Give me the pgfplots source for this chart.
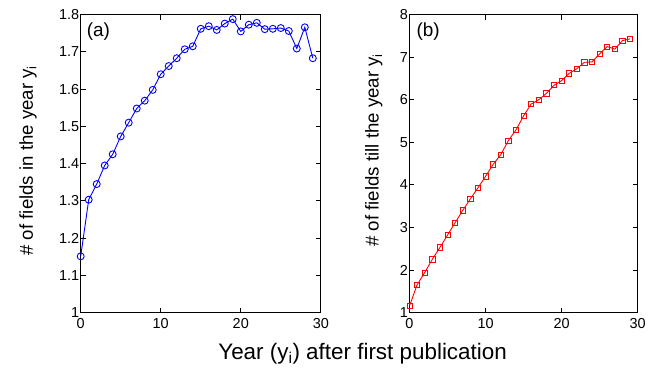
\documentclass[border=0pt]{standalone}
\usepackage{pgfplots}
\pgfplotsset{compat=1.18}
\usepackage{fontspec}
\setmainfont{Liberation Sans}
\begin{document}
\begin{tikzpicture}
\pgfplotsset{
  every axis/.append style={
    scale only axis,
    width=241pt, height=299pt,
    xmin=0, xmax=30,
    xtick={0,10,20,30},
    tick align=inside,
    major tick length=5pt,
    axis line style={line width=1pt},
    every tick/.style={black, line width=0.8pt},
    tick label style={font=\fontsize{14.5}{14.5}\selectfont},
    label style={font=\fontsize{18.7}{18.7}\selectfont},
    yticklabel style={xshift=2pt},
    xticklabel style={yshift=-2pt},
    /pgf/number format/assume math mode=true,
    /pgf/number format/fixed,
    xtick pos=both, ytick pos=both,
  }
}
\begin{axis}[
  name=left,
  ymin=1, ymax=1.8,
  ytick={1,1.1,1.2,1.3,1.4,1.5,1.6,1.7,1.8},
  yticklabels={1,1.1,1.2,1.3,1.4,1.5,1.6,1.7,1.8},
  ylabel={\# of fields in the year y\textsubscript{i}},
  ylabel style={at={(axis description cs:-0.1826,0.51)}, anchor=south, inner sep=0pt},
  xlabel={Year (y\textsubscript{i}) after first publication},
  xlabel style={at={(axis description cs:1.174,0)}, anchor=base, yshift=-47pt, inner sep=0pt, font=\fontsize{22.5}{22.5}\selectfont},
]
\addplot[blue, line width=0.9pt, mark=o, mark size=3.5pt, mark options={line width=0.9pt}] coordinates {
(0,1.151)(1,1.303)(2,1.345)(3,1.395)(4,1.425)(5,1.473)(6,1.510)(7,1.548)(8,1.569)(9,1.598)
(10,1.640)(11,1.662)(12,1.683)(13,1.707)(14,1.715)(15,1.762)(16,1.769)(17,1.759)(18,1.776)(19,1.788)
(20,1.755)(21,1.773)(22,1.778)(23,1.761)(24,1.762)(25,1.764)(26,1.756)(27,1.709)(28,1.766)(29,1.683)
};
\node[anchor=north west, font=\fontsize{19}{19}\selectfont, inner sep=0pt] at (rel axis cs:0.025,0.975) {(a)};
\end{axis}
\begin{axis}[
  name=right,
  at={(330pt,0)},
  width=229pt,
  ymin=1, ymax=8,
  ytick={1,2,3,4,5,6,7,8},
  ylabel={\# of fields till the year y\textsubscript{i}},
  ylabel style={at={(axis description cs:-0.118,0.545)}, anchor=south, inner sep=0pt},
]
\addplot[red, line width=0.9pt, mark=square, mark size=2.6pt, mark options={line width=0.8pt}] coordinates {
(0,1.155)(1,1.65)(2,1.94)(3,2.25)(4,2.53)(5,2.82)(6,3.11)(7,3.40)(8,3.67)(9,3.93)
(10,4.20)(11,4.48)(12,4.71)(13,5.04)(14,5.29)(15,5.62)(16,5.90)(17,6.00)(18,6.15)(19,6.34)
(20,6.45)(21,6.62)(22,6.73)(23,6.88)(24,6.89)(25,7.08)(26,7.25)(27,7.19)(28,7.39)(29,7.43)
};
\node[anchor=north west, font=\fontsize{19}{19}\selectfont, inner sep=0pt] at (rel axis cs:0.03,0.975) {(b)};
\end{axis}
\path ([xshift=-81pt,yshift=-59pt]left.south west) rectangle ([xshift=9pt,yshift=14.7pt]right.north east);
\end{tikzpicture}
\end{document}
